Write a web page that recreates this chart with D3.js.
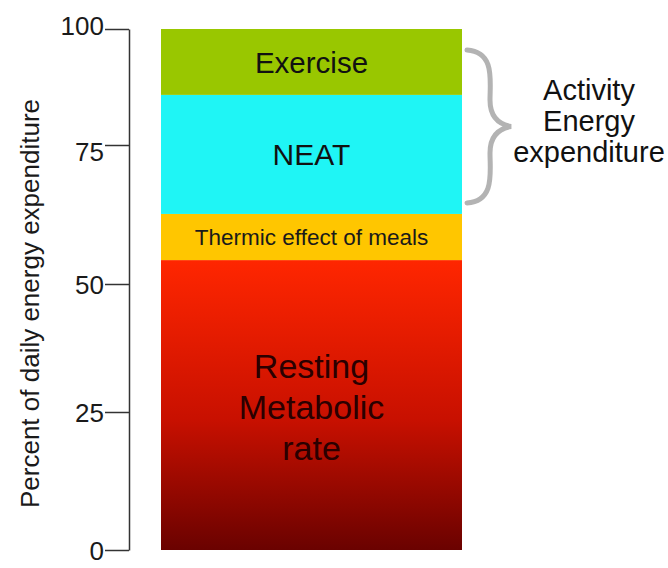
<!DOCTYPE html>
<html>
<head>
<meta charset="utf-8">
<script src="https://cdn.jsdelivr.net/npm/d3@7"></script>
<style>
	html, body { margin: 0; padding: 0; background: #fff; }
	body { width: 668px; height: 568px; overflow: hidden; }
</style>
</head>
<body>
<div id="chart"></div>
<script>
//data
const categories = ['Resting Metabolic rate', 'Thermic effect of meals', 'NEAT', 'Exercise'];
const values = [54.3, 8.3, 23.2, 14.2];
const tickValues = [0, 25, 50, 75, 100];
const axisTitle = 'Percent of daily energy expenditure';
const bracketLabel = ['Activity', 'Energy', 'expenditure'];

render();

function render() {
	let props = {
		width: 668,
		height: 568,
		barLeft: 161,
		barRight: 462,
		colors: ['url(#rmr-grad)', '#ffc600', '#1ff5f5', '#99c700'],
		fontFamily: 'Liberation Sans, Arial, sans-serif',
	};
	createVisualization(d3.select('#chart'), props);
}

function createVisualization(container, props) {
	let { width, height, barLeft, barRight, colors, fontFamily } = props;

	// the original's ticks are not evenly spaced, so map each tick on its own
	let y = d3.scaleLinear().domain(tickValues).range([550, 412, 284, 145, 29]);

	let svg = container
		.append('svg')
		.attr('width', width)
		.attr('height', height)
		.attr('font-family', fontFamily);

	let grad = svg
		.append('defs')
		.append('linearGradient')
		.attr('id', 'rmr-grad')
		.attr('x1', 0)
		.attr('y1', 0)
		.attr('x2', 0)
		.attr('y2', 1);
	grad.append('stop').attr('offset', '0%').attr('stop-color', '#ff2600');
	grad.append('stop').attr('offset', '55%').attr('stop-color', '#c81000');
	grad.append('stop').attr('offset', '100%').attr('stop-color', '#6a0200');

	//stack
	let cum = 0;
	let segments = values.map((v, i) => {
		let d = { name: categories[i], y0: cum, y1: cum + v };
		cum += v;
		return d;
	});

	svg
		.selectAll('.seg')
		.data(segments)
		.enter()
		.append('rect')
		.attr('class', 'seg')
		.attr('x', barLeft)
		.attr('width', barRight - barLeft)
		.attr('y', (d) => y(d.y1))
		.attr('height', (d) => y(d.y0) - y(d.y1))
		.attr('fill', (d, i) => colors[i]);

	//labels inside bar
	let labelStyle = [
		{ size: 34, fill: '#2a0000', lh: 41, dy: 0 },
		{ size: 22.5, fill: '#1a1a1a', lh: 0, dy: 0 },
		{ size: 30, fill: '#111', lh: 0, dy: 0 },
		{ size: 29.5, fill: '#111', lh: 0, dy: 0 },
	];
	let cx = (barLeft + barRight) / 2;
	segments.forEach((d, i) => {
		let st = labelStyle[i];
		let lines = i === 0 ? d.name.split(' ') : [d.name];
		let mid = (y(d.y0) + y(d.y1)) / 2;
		let first = mid - ((lines.length - 1) * st.lh) / 2 + st.size * 0.36 + st.dy;
		if (i === 0) first = mid - st.lh + st.size * 0.36 + 2;
		let t = svg
			.append('text')
			.attr('text-anchor', 'middle')
			.attr('font-size', st.size)
			.attr('fill', st.fill);
		lines.forEach((line, k) => {
			t.append('tspan')
				.attr('x', cx)
				.attr('y', first + k * st.lh)
				.text(line);
		});
	});

	//axis
	let axisX = 129;
	let axis = svg
		.append('g')
		.attr('transform', translation(axisX, 0))
		.call(d3.axisLeft(y).tickValues(tickValues).tickSize(24).tickSizeOuter(0).tickPadding(1));
	axis.select('.domain').attr('stroke', '#333').attr('stroke-width', 1.5);
	axis.selectAll('.tick line').attr('stroke', '#333').attr('stroke-width', 1.5);
	axis
		.selectAll('.tick text')
		.attr('font-size', 26)
		.attr('font-family', fontFamily)
		.attr('fill', '#1a1a1a')
		.attr('dy', (d) => (d === 100 ? '0.2em' : d === 75 ? '0.6em' : '0.36em'));

	svg
		.append('text')
		.attr('transform', `translate(39, ${(y(0) + y(100)) / 2 + 14}) rotate(-90)`)
		.attr('text-anchor', 'middle')
		.attr('font-size', 26)
		.attr('fill', '#1a1a1a')
		.text(axisTitle);

	//bracket for activity energy
	let top = y(100) + 21;
	let bot = y(values[0] + values[1]) - 11;
	let midY = (top + bot) / 2;
	let bx = barRight + 5;
	let bracePath = d3.path();
	bracePath.moveTo(bx, top);
	bracePath.bezierCurveTo(bx + 28, top + 2, bx + 23, top + 30, bx + 23, top + 50);
	bracePath.bezierCurveTo(bx + 23, midY - 8, bx + 33, midY - 2, bx + 44, midY);
	bracePath.bezierCurveTo(bx + 33, midY + 2, bx + 23, midY + 8, bx + 23, bot - 50);
	bracePath.bezierCurveTo(bx + 23, bot - 30, bx + 28, bot - 2, bx, bot);
	svg
		.append('path')
		.attr('d', bracePath.toString())
		.attr('fill', 'none')
		.attr('stroke', '#b3b3b3')
		.attr('stroke-width', 5)
		.attr('stroke-linecap', 'round');

	let bt = svg
		.append('text')
		.attr('text-anchor', 'middle')
		.attr('font-size', 29)
		.attr('fill', '#111');
	bracketLabel.forEach((line, k) => {
		bt.append('tspan')
			.attr('x', 589)
			.attr('y', 100 + k * 31)
			.text(line);
	});
}

//utils
function translation(x, y) {
	return `translate(${x}, ${y})`;
}
</script>
</body>
</html>
